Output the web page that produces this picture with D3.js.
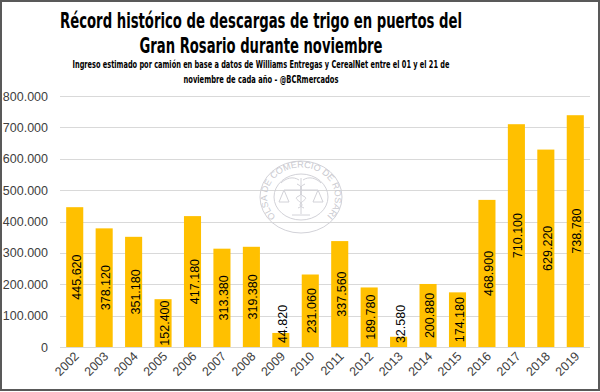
<!DOCTYPE html>
<html>
<head>
<meta charset="utf-8">
<script src="https://cdn.jsdelivr.net/npm/d3@7"></script>
<style>
  body { margin: 0; background: #fff; }
  svg { display: block; }
</style>
</head>
<body>
<div id="chart"></div>
<script>
// Data
var years = ["2002", "2003", "2004", "2005", "2006", "2007", "2008", "2009", "2010",
             "2011", "2012", "2013", "2014", "2015", "2016", "2017", "2018", "2019"];
var tonnes = [445620, 378120, 351180, 152400, 417180, 313380, 319380, 44820, 231060,
              337560, 189780, 32580, 200880, 174180, 468900, 710100, 629220, 738780];
var yTicks = [0, 100000, 200000, 300000, 400000, 500000, 600000, 700000, 800000];

var titleLines = ["Récord histórico de descargas de trigo en puertos del",
                  "Gran Rosario durante noviembre"];
var subLines = ["Ingreso estimado por camión en base a datos de Williams Entregas y CerealNet entre el 01 y el 21 de",
                "noviembre de cada año - @BCRmercados"];

var width = 600, height = 392;
var margin = { t: 96, r: 10, b: 45, l: 60 };
var chartWidth = 590 - margin.l;
var chartHeight = 347 - margin.t;

// es-AR number format: 445.620
var loc = d3.formatLocale({ decimal: ",", thousands: ".", grouping: [3], currency: ["$", ""] });
var fmt = loc.format(",d");

var svg = d3.select("#chart").append("svg")
    .attr("width", width)
    .attr("height", height);

// Titles
var title = svg.append("g").attr("font-family", "'Liberation Sans Narrow', 'DejaVu Sans Condensed', sans-serif")
    .attr("font-weight", "bold").attr("fill", "#000").attr("text-anchor", "middle");
title.append("text").attr("x", 261).attr("y", 28).attr("font-size", 22)
    .attr("textLength", 402).attr("lengthAdjust", "spacingAndGlyphs").text(titleLines[0]);
title.append("text").attr("x", 261).attr("y", 53).attr("font-size", 22)
    .attr("textLength", 243).attr("lengthAdjust", "spacingAndGlyphs").text(titleLines[1]);
title.append("text").attr("x", 261).attr("y", 68).attr("font-size", 11)
    .attr("textLength", 377).attr("lengthAdjust", "spacingAndGlyphs").text(subLines[0]);
title.append("text").attr("x", 261).attr("y", 83).attr("font-size", 11)
    .attr("textLength", 155).attr("lengthAdjust", "spacingAndGlyphs").text(subLines[1]);

var chart = svg.append("g")
    .attr("transform", `translate(${margin.l} ${margin.t})`);

var xScale = d3.scaleBand()
    .domain(years)
    .range([0, chartWidth])
    .paddingInner(0.42)
    .paddingOuter(0.21);

var yScale = d3.scaleLinear()
    .domain([0, 800000])
    .range([chartHeight, 0]);

// Gridlines
chart.append("g")
    .selectAll("line")
    .data(yTicks)
    .enter()
    .append("line")
    .attr("x1", 0)
    .attr("x2", chartWidth)
    .attr("y1", d => Math.round(yScale(d)) + 0.5)
    .attr("y2", d => Math.round(yScale(d)) + 0.5)
    .attr("stroke", "#d9d9d9")
    .attr("stroke-width", 1);

// Watermark seal (Bolsa de Comercio de Rosario)
var sx = 301, sy = 197, arx = 34, ary = 29.5;
var seal = svg.append("g")
    .attr("transform", `translate(${sx} ${sy})`)
    .attr("fill", "none")
    .attr("stroke", "#d2d2d8")
    .attr("stroke-width", 1);
seal.append("ellipse").attr("rx", 41).attr("ry", 36);
seal.append("ellipse").attr("rx", 27).attr("ry", 23);
var k = Math.SQRT1_2;
svg.append("defs").append("path")
    .attr("id", "sealArc")
    .attr("d", `M ${sx - arx * k} ${sy + ary * k} A ${arx} ${ary} 0 1 1 ${sx + arx * k} ${sy + ary * k}`);
svg.append("text")
    .attr("font-family", "'Liberation Sans', sans-serif")
    .attr("font-size", 9)
    .attr("fill", "#cacad0")
    .append("textPath")
    .attr("href", "#sealArc")
    .attr("startOffset", "50%")
    .attr("text-anchor", "middle")
    .text("BOLSA DE COMERCIO DE ROSARIO");
// caduceus and scales
seal.append("line").attr("x1", 0).attr("y1", -19).attr("x2", 0).attr("y2", 17);
seal.append("path").attr("d", "M -4 -13 C 6 -9, -6 -4, 4 0 C 8 3, -8 7, 3 11");
seal.append("path").attr("d", "M 4 -13 C -6 -9, 6 -4, -4 0 C -8 3, 8 7, -3 11");
seal.append("path").attr("d", "M -2 -17 C -8 -21, -15 -19, -20 -14 M 2 -17 C 8 -21, 15 -19, 20 -14");
seal.append("line").attr("x1", -17).attr("y1", -7).attr("x2", 17).attr("y2", -7);
seal.append("path").attr("d", "M -17 -7 L -22 5 L -12 5 Z M 17 -7 L 12 5 L 22 5 Z");
seal.append("line").attr("x1", -9).attr("y1", 18).attr("x2", 9).attr("y2", 18);

// Bars
chart.append("g")
    .selectAll("rect")
    .data(tonnes)
    .enter()
    .append("rect")
    .attr("x", (d, i) => xScale(years[i]))
    .attr("y", d => yScale(d))
    .attr("width", xScale.bandwidth())
    .attr("height", d => chartHeight - yScale(d))
    .attr("fill", "#ffc000");

// Baseline
chart.append("line")
    .attr("x1", 0).attr("x2", chartWidth)
    .attr("y1", chartHeight + 0.5).attr("y2", chartHeight + 0.5)
    .attr("stroke", "#d9d9d9");

// Bar value labels (rotated, centred in the bar, kept off the baseline)
chart.append("g")
    .selectAll("text")
    .data(tonnes)
    .enter()
    .append("text")
    .attr("transform", (d, i) => {
        var cx = xScale(years[i]) + xScale.bandwidth() / 2;
        var cy = Math.min((yScale(d) + chartHeight) / 2, chartHeight - 23);
        return `translate(${cx + 6} ${cy}) rotate(-90)`;
    })
    .attr("text-anchor", "middle")
    .attr("font-family", "'Liberation Sans', 'DejaVu Sans', sans-serif")
    .attr("font-size", 12.5)
    .attr("fill", "#000")
    .text(d => fmt(d));

// Y axis labels
chart.append("g")
    .selectAll("text")
    .data(yTicks)
    .enter()
    .append("text")
    .attr("x", -12)
    .attr("y", d => yScale(d) + 4.5)
    .attr("text-anchor", "end")
    .attr("font-family", "'Liberation Sans', 'DejaVu Sans', sans-serif")
    .attr("font-size", 12.5)
    .attr("fill", "#404040")
    .text(d => fmt(d));

// X axis labels
chart.append("g")
    .selectAll("text")
    .data(years)
    .enter()
    .append("text")
    .attr("transform", d => `translate(${xScale(d) + xScale.bandwidth() / 2 + 5} ${chartHeight + 10}) rotate(-45)`)
    .attr("text-anchor", "end")
    .attr("font-family", "'Liberation Sans', 'DejaVu Sans', sans-serif")
    .attr("font-size", 12.5)
    .attr("fill", "#404040")
    .text(d => d);

// Outer frame
svg.append("rect")
    .attr("x", 1).attr("y", 1)
    .attr("width", width - 2).attr("height", height - 3)
    .attr("fill", "none")
    .attr("stroke", "#595959")
    .attr("stroke-width", 2);
</script>
</body>
</html>
